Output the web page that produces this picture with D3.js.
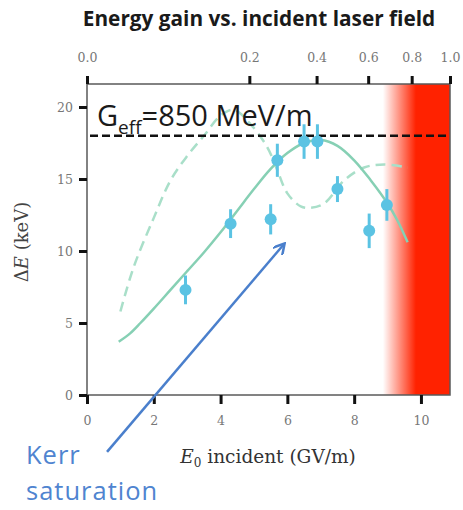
<!DOCTYPE html>
<html><head><meta charset="utf-8">
<script src="https://cdn.jsdelivr.net/npm/d3@7"></script>
<style>
html,body{margin:0;padding:0;background:#fff;}
svg{display:block;}
</style></head>
<body>
<svg id="chart" width="463" height="510"></svg>
<script>
// ---- data ----
const bottomTicks = [0, 2, 4, 6, 8, 10];
const topTicks = [0.0, 0.2, 0.4, 0.6, 0.8, 1.0];
const topTickLabels = ["0.0", "0.2", "0.4", "0.6", "0.8", "1.0"];
const leftTicks = [0, 5, 10, 15, 20];
// measured points: E0 (GV/m), ΔE (keV), error (keV)
const pointE = [2.95, 4.3, 5.5, 5.7, 6.5, 6.9, 7.5, 8.45, 8.98];
const pointDE = [7.3, 11.9, 12.2, 16.3, 17.6, 17.6, 14.3, 11.4, 13.2];
const pointErr = [1.0, 1.0, 1.05, 1.15, 1.2, 1.2, 0.9, 1.2, 1.1];
// simulation (solid)
const solidE = [0.95, 1.3, 1.6, 2.0, 2.5, 3.0, 3.5, 4.0, 4.5, 5.0, 5.5, 6.0, 6.5, 7.0, 7.5, 8.0, 8.5, 9.0, 9.3, 9.6];
const solidDE = [3.7, 4.3, 5.0, 6.0, 7.3, 8.6, 9.9, 11.3, 12.8, 14.3, 15.7, 16.8, 17.5, 17.7, 17.3, 16.3, 14.9, 13.3, 12.1, 10.6];
// simulation (dashed)
const dashE = [1.0, 1.4, 2.0, 2.5, 3.0, 3.5, 4.0, 4.4, 4.9, 5.4, 5.7, 6.0, 6.4, 6.7, 7.1, 7.7, 8.3, 8.9, 9.6];
const dashDE = [5.8, 8.9, 12.3, 14.9, 16.6, 18.0, 19.4, 19.8, 18.8, 17.2, 15.6, 14.0, 13.1, 13.0, 13.3, 14.9, 15.8, 16.0, 15.8];
const geffValue = 18.0;
const redStart = 8.86, redFull = 9.85;
const arrowFrom = [0.6, -3.95], arrowTo = [5.87, 10.4];

// ---- layout ----
const svg = d3.select("#chart");
const L = 87, R = 450, T = 84, B = 395;
const x = d3.scaleLinear().domain([0, 10.87]).range([L, R]);
const y = d3.scaleLinear().domain([0, 20]).range([B, B - 288]);
const xTop = d3.scaleSqrt().domain([0, 1]).range([L, R]);

const defs = svg.append("defs");
const grad = defs.append("linearGradient").attr("id", "redgrad")
  .attr("gradientUnits", "userSpaceOnUse")
  .attr("x1", x(redStart)).attr("x2", x(redFull)).attr("y1", 0).attr("y2", 0);
grad.append("stop").attr("offset", 0).attr("stop-color", "#ff2200").attr("stop-opacity", 0);
grad.append("stop").attr("offset", 1).attr("stop-color", "#ff2200").attr("stop-opacity", 1);
defs.append("marker").attr("id", "arrowhead").attr("viewBox", "0 0 10 10")
  .attr("refX", 7).attr("refY", 5).attr("markerWidth", 5).attr("markerHeight", 5)
  .attr("markerUnits", "strokeWidth").attr("orient", "auto")
  .append("path").attr("d", "M0,0 L9,5 L0,10").attr("fill", "none")
  .attr("stroke", "#4a7fcc").attr("stroke-width", 2);

// red region
svg.append("rect").attr("x", x(redStart)).attr("y", T)
  .attr("width", R - x(redStart)).attr("height", B - T).attr("fill", "url(#redgrad)");

// title
svg.append("text").attr("x", 259).attr("y", 26).attr("text-anchor", "middle")
  .attr("font-family", "'Open Sans', sans-serif").attr("font-weight", "bold")
  .attr("font-size", 20.8).attr("fill", "#1a1a1a").text("Energy gain vs. incident laser field");

// curves
const line = d3.line().x(d => x(d[0])).y(d => y(d[1])).curve(d3.curveCatmullRom);
svg.append("path").datum(dashE.map((e, i) => [e, dashDE[i]])).attr("d", line)
  .attr("fill", "none").attr("stroke", "#a9dfc9").attr("stroke-width", 2.5)
  .attr("stroke-dasharray", "10,6");
svg.append("path").datum(solidE.map((e, i) => [e, solidDE[i]])).attr("d", line)
  .attr("fill", "none").attr("stroke", "#86d0b4").attr("stroke-width", 2.5);

// frame
svg.append("rect").attr("x", L).attr("y", T).attr("width", R - L).attr("height", B - T)
  .attr("fill", "none").attr("stroke", "#5a5a5a").attr("stroke-width", 1.5);

// axes
const tickStyle = g => {
  g.select(".domain").remove();
  g.selectAll(".tick line").attr("stroke", "#111").attr("stroke-width", 3);
  g.selectAll(".tick text").attr("fill", "#777").attr("font-family", "'DejaVu Serif', serif").attr("font-size", 12.5);
};
svg.append("g").attr("transform", `translate(0,${B})`)
  .call(d3.axisBottom(x).tickValues(bottomTicks).tickFormat(d3.format("d")).tickSize(9).tickPadding(12))
  .call(tickStyle);
svg.append("g").attr("transform", `translate(0,${T})`)
  .call(d3.axisTop(xTop).tickValues(topTicks).tickFormat((d, i) => topTickLabels[i]).tickSize(8).tickPadding(14))
  .call(tickStyle);
svg.append("g").attr("transform", `translate(${L},0)`)
  .call(d3.axisLeft(y).tickValues(leftTicks).tickFormat(d3.format("d")).tickSize(8).tickPadding(6))
  .call(tickStyle);

// Geff dashed line
svg.append("line").attr("x1", L + 3).attr("x2", R).attr("y1", y(geffValue)).attr("y2", y(geffValue))
  .attr("stroke", "#111").attr("stroke-width", 2.5).attr("stroke-dasharray", "8,4");

// Geff label
const gt = svg.append("text").attr("x", 97).attr("y", 126)
  .attr("font-family", "'Open Sans', sans-serif").attr("font-size", 29).attr("fill", "#1a1a1a");
gt.append("tspan").text("G");
gt.append("tspan").attr("font-size", 19).attr("dy", 8).text("eff");
gt.append("tspan").attr("dy", -8).text("=850 MeV/m");

// data points with error bars
const pts = pointE.map((e, i) => ({e, v: pointDE[i], err: pointErr[i]}));
const pg = svg.append("g").attr("fill", "#5bc3e3").attr("stroke", "#5bc3e3");
pg.selectAll("line").data(pts).join("line")
  .attr("x1", d => x(d.e)).attr("x2", d => x(d.e))
  .attr("y1", d => y(d.v - d.err)).attr("y2", d => y(d.v + d.err)).attr("stroke-width", 3);
pg.selectAll("circle").data(pts).join("circle")
  .attr("cx", d => x(d.e)).attr("cy", d => y(d.v)).attr("r", 6).attr("stroke", "none");

// axis labels
const yl = svg.append("text").attr("transform", `translate(28,242) rotate(-90)`).attr("text-anchor", "middle")
  .attr("font-family", "'DejaVu Serif', serif").attr("font-size", 18).attr("fill", "#444");
yl.append("tspan").text("Δ");
yl.append("tspan").attr("font-style", "italic").text("E");
yl.append("tspan").text(" (keV)");

const xl = svg.append("text").attr("x", 268).attr("y", 463).attr("text-anchor", "middle")
  .attr("font-family", "'DejaVu Serif', serif").attr("font-size", 18.5).attr("fill", "#333");
xl.append("tspan").attr("font-style", "italic").text("E");
xl.append("tspan").attr("font-size", 12).attr("dy", 4).text("0");
xl.append("tspan").attr("dy", -4).text(" incident (GV/m)");

// Kerr saturation annotation
svg.append("line").attr("x1", x(arrowFrom[0])).attr("y1", y(arrowFrom[1]))
  .attr("x2", x(arrowTo[0])).attr("y2", y(arrowTo[1]))
  .attr("stroke", "#4a7fcc").attr("stroke-width", 2.5).attr("marker-end", "url(#arrowhead)");
const kt = svg.append("g").attr("font-family", "'Open Sans', sans-serif").attr("font-size", 25.5)
  .attr("letter-spacing", 1).attr("fill", "#4f84d0");
kt.append("text").attr("x", 26).attr("y", 464).text("Kerr");
kt.append("text").attr("x", 26).attr("y", 500).text("saturation");
</script>
</body></html>
